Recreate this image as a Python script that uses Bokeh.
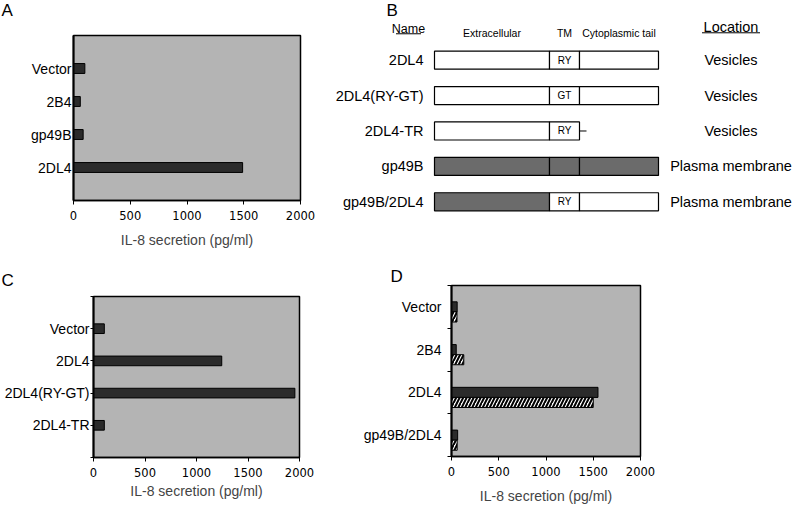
from bokeh.plotting import figure
from bokeh.layouts import row, column
from bokeh.models import Range1d, FixedTicker
from bokeh.core.properties import value
from bokeh.embed import file_html
from bokeh.resources import INLINE

# ---------------- data ----------------
# Panel A
a_cats = ["Vector", "2B4", "gp49B", "2DL4"]
a_vals = [100, 60, 85, 1490]

# Panel B (schematic of receptor constructs)
b_names = ["2DL4", "2DL4(RY-GT)", "2DL4-TR", "gp49B", "gp49B/2DL4"]
b_domains = ["Extracellular", "TM", "Cytoplasmic tail"]
b_domain_len = [115, 30, 79]
b_truncated_tail_len = 7
b_ecto = ["2DL4", "2DL4", "2DL4", "gp49B", "gp49B"]
b_tm = ["2DL4", "2DL4", "2DL4", "gp49B", "2DL4"]
b_tail = ["2DL4", "2DL4", None, "gp49B", "2DL4"]
b_motif = ["RY", "GT", "RY", "", "RY"]
b_location = ["Vesicles", "Vesicles", "Vesicles", "Plasma membrane", "Plasma membrane"]

# Panel C
c_cats = ["Vector", "2DL4", "2DL4(RY-GT)", "2DL4-TR"]
c_vals = [105, 1245, 1955, 105]

# Panel D
d_cats = ["Vector", "2B4", "2DL4", "gp49B/2DL4"]
d_solid = [60, 50, 1550, 65]
d_hatched = [58, 130, 1500, 60]

x_ticks = [0, 500, 1000, 1500, 2000]
x_title = "IL-8 secretion (pg/ml)"

# ---------------- styles ----------------
GRAY = "#b4b4b4"
DARK = "#2b2b2b"
BOXGRAY = "#6b6b6b"
SANS = "Liberation Sans"


def bar_panel(width, height, left, right, top, bottom, nslots, label_standoff,
              tick_out, title_standoff):
    p = figure(width=width, height=height, output_backend="svg", toolbar_location=None,
               x_range=Range1d(0, 2000), y_range=Range1d(0, nslots),
               min_border_left=left, min_border_right=right,
               min_border_top=top, min_border_bottom=bottom,
               frame_align=False)
    p.background_fill_color = GRAY
    p.border_fill_color = "white"
    p.outline_line_color = "black"
    p.outline_line_width = 1.5
    p.grid.visible = False
    xa = p.xaxis[0]
    xa.ticker = FixedTicker(ticks=x_ticks)
    xa.axis_label = x_title
    xa.axis_label_text_font = SANS
    xa.axis_label_text_font_size = "14px"
    xa.axis_label_text_font_style = "normal"
    xa.axis_label_standoff = title_standoff
    xa.major_label_text_font = "DejaVu Sans"
    xa.major_label_text_font_size = "11.5px"
    xa.major_label_text_color = "black"
    xa.major_label_standoff = 6
    xa.major_tick_out = 4
    xa.major_tick_in = 0
    xa.minor_tick_out = 0
    xa.minor_tick_in = 0
    xa.axis_line_color = "black"
    xa.axis_line_width = 1.5
    ya = p.yaxis[0]
    ya.major_label_text_font = SANS
    ya.major_label_text_font_size = "14px"
    ya.major_label_text_color = "black"
    ya.major_label_standoff = label_standoff
    ya.major_tick_out = tick_out
    ya.major_tick_in = 0
    ya.minor_tick_out = 4
    ya.minor_tick_in = 0
    ya.axis_line_color = "black"
    ya.axis_line_width = 2
    return p


def letter_strip(width, height, text, x, middle):
    s = figure(width=width, height=height, output_backend="svg", toolbar_location=None,
               x_range=Range1d(0, width), y_range=Range1d(height, 0),
               x_axis_type=None, y_axis_type=None, min_border=0, frame_align=False)
    s.outline_line_color = None
    s.background_fill_color = "white"
    s.border_fill_color = "white"
    s.text(x=[x], y=[middle], text=[text], text_font=value(SANS),
           text_font_size=value("17px"), text_align="left", text_baseline="middle")
    return s


LEFT_W = 328
RIGHT_W = 797 - LEFT_W

# ---------------- Panel A ----------------
sa = letter_strip(LEFT_W, 22, "A", 1, 10)
pa = bar_panel(LEFT_W, 228, 73, LEFT_W - 73 - 227, 13, 47, len(a_cats) + 1, 2, 0, 9)
a_y = list(range(len(a_cats), 0, -1))
pa.yaxis[0].ticker = FixedTicker(ticks=a_y, minor_ticks=[])
pa.yaxis[0].major_label_overrides = {yy: c for yy, c in zip(a_y, a_cats)}
pa.hbar(y=a_y, left=0, right=a_vals, height=0.3, fill_color=DARK, line_color="black")

# ---------------- Panel C ----------------
sc = letter_strip(LEFT_W, 40, "C", 1, 30)
pc = bar_panel(LEFT_W, 216, 93, LEFT_W - 93 - 206, 6, 49, len(c_cats) + 1, 1, 3, 3)
c_y = list(range(len(c_cats), 0, -1))
pc.yaxis[0].ticker = FixedTicker(ticks=c_y, minor_ticks=[0, len(c_cats) + 1])
pc.yaxis[0].minor_tick_out = 3
pc.yaxis[0].major_label_overrides = {yy: c for yy, c in zip(c_y, c_cats)}
pc.hbar(y=c_y, left=0, right=c_vals, height=0.3, fill_color=DARK, line_color="black")

# ---------------- Panel D ----------------
sd = letter_strip(RIGHT_W, 34, "D", 390 - LEFT_W, 25.5)
d_left = 451 - LEFT_W
pd_ = bar_panel(RIGHT_W, 222, d_left, RIGHT_W - d_left - 189, 1, 44, len(d_cats), 6, 0, 9)
d_y = [len(d_cats) - i - 0.5 for i in range(len(d_cats))]
bar_h = 0.236
pd_.yaxis[0].ticker = FixedTicker(ticks=d_y, minor_ticks=list(range(len(d_cats) + 1)))
pd_.yaxis[0].major_label_overrides = {yy: c for yy, c in zip(d_y, d_cats)}
pd_.hbar(y=d_y, left=0, right=d_solid, height=bar_h, fill_color=DARK, line_color="black")
pd_.hbar(y=[yy - bar_h for yy in d_y], left=0, right=d_hatched, height=bar_h,
         fill_color="white", line_color="black", hatch_pattern="/",
         hatch_color="black", hatch_weight=2, hatch_scale=7)

# ---------------- Panel B ----------------
b_x0 = 434 - LEFT_W
pb = figure(width=RIGHT_W, height=250, output_backend="svg", toolbar_location=None,
            x_range=Range1d(-b_x0, RIGHT_W - b_x0), y_range=Range1d(6.376, -0.686),
            x_axis_type=None, y_axis_type=None, min_border=0, frame_align=False)
pb.outline_line_color = None
pb.background_fill_color = "white"
pb.border_fill_color = "white"

edges = [0]
for L in b_domain_len:
    edges.append(edges[-1] + L)
box_half = 0.255
rows = list(range(1, len(b_names) + 1))

ql, qr, qt, qb, qf = [], [], [], [], []
for r, origins in zip(rows, zip(b_ecto, b_tm, b_tail)):
    for j, o in enumerate(origins):
        if o is None:
            continue
        ql.append(edges[j]); qr.append(edges[j + 1])
        qt.append(r - box_half); qb.append(r + box_half)
        qf.append("white" if o == "2DL4" else BOXGRAY)
pb.quad(left=ql, right=qr, top=qt, bottom=qb, fill_color=qf, line_color="black", line_width=1.2)

# truncated tail stub
for r, t in zip(rows, b_tail):
    if t is None:
        pb.segment(x0=[edges[2]], x1=[edges[2] + b_truncated_tail_len], y0=[r], y1=[r],
                   line_color="black", line_width=1)

tm_c = (edges[1] + edges[2]) / 2
pb.text(x=[tm_c] * len(rows), y=rows, text=b_motif, text_font=value(SANS),
        text_font_size=value("10px"), text_align="center", text_baseline="middle")
pb.text(x=[-11] * len(rows), y=rows, text=b_names, text_font=value(SANS),
        text_font_size=value("14.5px"), text_align="right", text_baseline="middle")
pb.text(x=[296.5] * len(rows), y=rows, text=b_location, text_font=value(SANS),
        text_font_size=value("14.5px"), text_align="center", text_baseline="middle")

# column headers
dom_c = [(edges[j] + edges[j + 1]) / 2 for j in range(len(b_domains))]
pb.text(x=dom_c, y=[0.22] * 3, text=b_domains, text_font=value(SANS),
        text_font_size=value("10.5px"), text_align="center", text_baseline="middle")
hdr_text = ["Name", "Location"]
hdr_x = [-26, 296.5]
hdr_y = [0.113, 0.068]
hdr_size = [12.5, 14.5]
ul_y = [0.254, 0.226]
for t, hx, hy, fs, uy in zip(hdr_text, hdr_x, hdr_y, hdr_size, ul_y):
    pb.text(x=[hx], y=[hy], text=[t], text_font=value(SANS),
            text_font_size=value(f"{fs}px"), text_align="center", text_baseline="middle")
    half = len(t) * fs * 0.25
    pb.segment(x0=[hx - half], x1=[hx + half], y0=[uy], y1=[uy], line_color="black", line_width=1)

pb.text(x=[-48], y=[-0.41], text=["B"], text_font=value(SANS),
        text_font_size=value("17px"), text_align="left", text_baseline="middle")

layout = row(column(sa, pa, sc, pc), column(pb, sd, pd_))
open("out.html", "w").write(file_html(layout, INLINE))
